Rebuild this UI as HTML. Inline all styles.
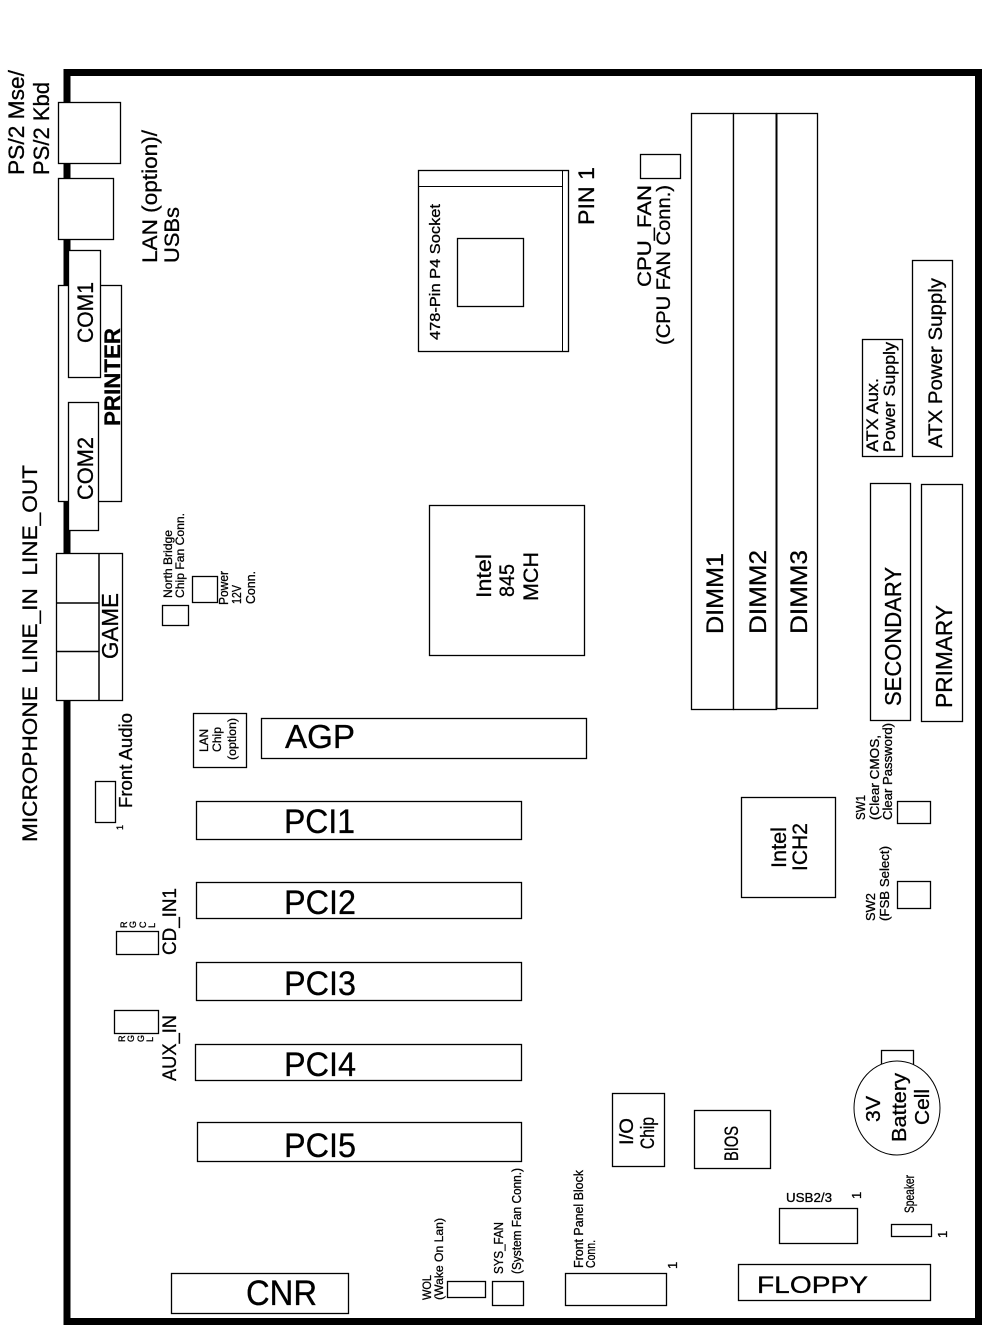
<!DOCTYPE html>
<html><head><meta charset="utf-8"><style>
html,body{margin:0;padding:0;background:#fff}
svg{display:block}
rect.b{fill:#fff;stroke:#000;stroke-width:1.3}
text{font-family:"Liberation Sans",sans-serif;fill:#000;stroke:#000;stroke-width:.3}
</style></head><body>
<svg width="990" height="1334" viewBox="0 0 990 1334" xmlns="http://www.w3.org/2000/svg">
<rect x="67" y="72.5" width="911.5" height="1249" fill="#fff" stroke="#000" stroke-width="7"/>

<rect class="b" x="58.5" y="102.5" width="62" height="61"/>
<rect class="b" x="58.5" y="178.5" width="55" height="61"/>
<rect class="b" x="58.5" y="285.5" width="63" height="216"/>
<rect class="b" x="68.5" y="250.5" width="32" height="127"/>
<rect class="b" x="68.5" y="402.5" width="30" height="128"/>
<rect class="b" x="56.5" y="553.5" width="66" height="147"/>
<path d="M99 553V700M56 603H99M56 651.5H99" stroke="#000" stroke-width="1.5" fill="none"/>
<rect class="b" x="95.5" y="781.5" width="20" height="41"/>
<rect class="b" x="162.5" y="605.5" width="26" height="20"/>
<rect class="b" x="192.5" y="576.5" width="25" height="26"/>
<rect class="b" x="193.5" y="713.5" width="53" height="54"/>
<rect class="b" x="261.5" y="718.5" width="325" height="40"/>
<rect class="b" x="196.5" y="801.5" width="325" height="38"/>
<rect class="b" x="196.5" y="882.5" width="325" height="36"/>
<rect class="b" x="196.5" y="962.5" width="325" height="38"/>
<rect class="b" x="195.5" y="1044.5" width="326" height="36"/>
<rect class="b" x="197.5" y="1122.5" width="324" height="39"/>
<rect class="b" x="171.5" y="1273.5" width="177" height="40"/>
<rect class="b" x="447.5" y="1281.5" width="38" height="16"/>
<rect class="b" x="492.5" y="1281.5" width="31" height="24"/>
<rect class="b" x="565.5" y="1273.5" width="101" height="32"/>
<rect class="b" x="612.5" y="1093.5" width="52" height="73"/>
<rect class="b" x="694.5" y="1110.5" width="76" height="58"/>
<rect class="b" x="881.5" y="1050.5" width="32" height="14"/>
<ellipse cx="897" cy="1108" rx="43" ry="47" fill="#fff" stroke="#000" stroke-width="1"/>
<rect class="b" x="779.5" y="1208.5" width="78" height="35"/>
<rect class="b" x="891.5" y="1224.5" width="40" height="12"/>
<rect class="b" x="738.5" y="1264.5" width="192" height="36"/>
<rect class="b" x="691.5" y="113.5" width="42" height="596"/>
<rect class="b" x="733.5" y="113.5" width="43" height="596"/>
<rect class="b" x="776.5" y="113.5" width="41" height="595"/>
<path d="M776.5 113V709" stroke="#000" stroke-width="2"/>
<rect class="b" x="870.5" y="483.5" width="40" height="237"/>
<rect class="b" x="921.5" y="484.5" width="41" height="237"/>
<rect class="b" x="862.5" y="339.5" width="40" height="117"/>
<rect class="b" x="912.5" y="260.5" width="40" height="196"/>
<rect class="b" x="897.5" y="801.5" width="33" height="22"/>
<rect class="b" x="897.5" y="881.5" width="33" height="27"/>
<rect class="b" x="741.5" y="797.5" width="94" height="100"/>
<rect class="b" x="429.5" y="505.5" width="155" height="150"/>
<rect class="b" x="418.5" y="170.5" width="150" height="181"/>
<path d="M562.5 170V351M418 186.5H562" stroke="#000" stroke-width="1" fill="none"/>
<rect class="b" x="457.5" y="238.5" width="66" height="68"/>
<rect class="b" x="640.5" y="154.5" width="40" height="24"/>
<rect class="b" x="116.5" y="931.5" width="42" height="23"/>
<rect class="b" x="114.5" y="1010.5" width="44" height="23"/>

<g>
<text font-size="22" textLength="105" lengthAdjust="spacingAndGlyphs" transform="translate(24 175) rotate(-90)">PS/2 Mse/</text>
<text font-size="22" textLength="93" lengthAdjust="spacingAndGlyphs" transform="translate(49 175) rotate(-90)">PS/2 Kbd</text>
<text font-size="21" textLength="133" lengthAdjust="spacingAndGlyphs" transform="translate(157 263) rotate(-90)">LAN (option)/</text>
<text font-size="21" textLength="56" lengthAdjust="spacingAndGlyphs" transform="translate(179 263) rotate(-90)">USBs</text>
<text font-size="22" textLength="61" lengthAdjust="spacingAndGlyphs" transform="translate(93 343) rotate(-90)">COM1</text>
<text font-size="22" textLength="98" lengthAdjust="spacingAndGlyphs" font-weight="bold" transform="translate(120 426) rotate(-90)">PRINTER</text>
<text font-size="22" textLength="63" lengthAdjust="spacingAndGlyphs" transform="translate(93 500) rotate(-90)">COM2</text>
<text font-size="21" textLength="377" lengthAdjust="spacingAndGlyphs" transform="translate(37 842) rotate(-90)" xml:space="preserve">MICROPHONE  LINE_IN  LINE_OUT</text>
<text font-size="23" textLength="66" lengthAdjust="spacingAndGlyphs" transform="translate(118 659) rotate(-90)">GAME</text>
<text font-size="18" textLength="95" lengthAdjust="spacingAndGlyphs" transform="translate(132 808) rotate(-90)">Front Audio</text>
<text font-size="9" transform="translate(123 830) rotate(-90)">1</text>
<text font-size="12" textLength="68" lengthAdjust="spacingAndGlyphs" transform="translate(172 598) rotate(-90)">North Bridge</text>
<text font-size="12" textLength="85" lengthAdjust="spacingAndGlyphs" transform="translate(184 598) rotate(-90)">Chip Fan Conn.</text>
<text font-size="13" textLength="34" lengthAdjust="spacingAndGlyphs" transform="translate(228 605) rotate(-90)">Power</text>
<text font-size="13" textLength="19" lengthAdjust="spacingAndGlyphs" transform="translate(241 604) rotate(-90)">12V</text>
<text font-size="13" textLength="33" lengthAdjust="spacingAndGlyphs" transform="translate(255 604) rotate(-90)">Conn.</text>
<text font-size="12" textLength="23" lengthAdjust="spacingAndGlyphs" transform="translate(208 752) rotate(-90)">LAN</text>
<text font-size="12" textLength="25" lengthAdjust="spacingAndGlyphs" transform="translate(221 752) rotate(-90)">Chip</text>
<text font-size="12" textLength="42" lengthAdjust="spacingAndGlyphs" transform="translate(236 760) rotate(-90)">(option)</text>

<text font-size="33" x="285" y="748" textLength="70" lengthAdjust="spacingAndGlyphs">AGP</text>
<text font-size="34" x="284" y="833" textLength="71" lengthAdjust="spacingAndGlyphs">PCI1</text>
<text font-size="34" x="284" y="914" textLength="72" lengthAdjust="spacingAndGlyphs">PCI2</text>
<text font-size="34" x="284" y="995" textLength="72" lengthAdjust="spacingAndGlyphs">PCI3</text>
<text font-size="34" x="284" y="1076" textLength="72" lengthAdjust="spacingAndGlyphs">PCI4</text>
<text font-size="34" x="284" y="1157" textLength="72" lengthAdjust="spacingAndGlyphs">PCI5</text>
<text font-size="35" x="246" y="1305" textLength="71" lengthAdjust="spacingAndGlyphs">CNR</text>
<text font-size="24" x="757" y="1293" textLength="111" lengthAdjust="spacingAndGlyphs">FLOPPY</text>
<text font-size="13" x="786" y="1202" textLength="46" lengthAdjust="spacingAndGlyphs">USB2/3</text>

<text font-size="13" transform="translate(861 1199) rotate(-90)">1</text>
<text font-size="14" textLength="38" lengthAdjust="spacingAndGlyphs" transform="translate(914 1213) rotate(-90)">Speaker</text>
<text font-size="13" transform="translate(947 1238) rotate(-90)">1</text>
<text font-size="12.5" textLength="98" lengthAdjust="spacingAndGlyphs" transform="translate(583 1268) rotate(-90)">Front Panel Block</text>
<text font-size="12.5" textLength="28" lengthAdjust="spacingAndGlyphs" transform="translate(595 1268) rotate(-90)">Conn.</text>
<text font-size="13" transform="translate(677 1269) rotate(-90)">1</text>
<text font-size="12.5" textLength="52" lengthAdjust="spacingAndGlyphs" transform="translate(503 1274) rotate(-90)">SYS_FAN</text>
<text font-size="12.5" textLength="106" lengthAdjust="spacingAndGlyphs" transform="translate(521 1274) rotate(-90)">(System Fan Conn.)</text>
<text font-size="12" textLength="25" lengthAdjust="spacingAndGlyphs" transform="translate(431 1300) rotate(-90)">WOL</text>
<text font-size="12" textLength="82" lengthAdjust="spacingAndGlyphs" transform="translate(443 1300) rotate(-90)">(Wake On Lan)</text>
<text font-size="19" textLength="27" lengthAdjust="spacingAndGlyphs" transform="translate(633 1145) rotate(-90)">I/O</text>
<text font-size="19" textLength="32" lengthAdjust="spacingAndGlyphs" transform="translate(654 1149) rotate(-90)">Chip</text>
<text font-size="19" textLength="35" lengthAdjust="spacingAndGlyphs" transform="translate(738 1161) rotate(-90)">BIOS</text>
<text font-size="20" textLength="26" lengthAdjust="spacingAndGlyphs" transform="translate(880 1122) rotate(-90)">3V</text>
<text font-size="20" textLength="69" lengthAdjust="spacingAndGlyphs" transform="translate(906 1142) rotate(-90)">Battery</text>
<text font-size="20" textLength="36" lengthAdjust="spacingAndGlyphs" transform="translate(929 1125) rotate(-90)">Cell</text>
<text font-size="12.5" textLength="25" lengthAdjust="spacingAndGlyphs" transform="translate(865 820) rotate(-90)">SW1</text>
<text font-size="12.5" textLength="85" lengthAdjust="spacingAndGlyphs" transform="translate(879 820) rotate(-90)">(Clear CMOS,</text>
<text font-size="12.5" textLength="97" lengthAdjust="spacingAndGlyphs" transform="translate(892 820) rotate(-90)">Clear Password)</text>
<text font-size="12.5" textLength="28" lengthAdjust="spacingAndGlyphs" transform="translate(875 921) rotate(-90)">SW2</text>
<text font-size="12.5" textLength="75" lengthAdjust="spacingAndGlyphs" transform="translate(889 921) rotate(-90)">(FSB Select)</text>
<text font-size="16.5" textLength="74" lengthAdjust="spacingAndGlyphs" transform="translate(878 452) rotate(-90)">ATX Aux.</text>
<text font-size="16.5" textLength="110" lengthAdjust="spacingAndGlyphs" transform="translate(895 452) rotate(-90)">Power Supply</text>
<text font-size="19" textLength="170" lengthAdjust="spacingAndGlyphs" transform="translate(942 448) rotate(-90)">ATX Power Supply</text>
<text font-size="24" textLength="81" lengthAdjust="spacingAndGlyphs" transform="translate(723 634) rotate(-90)">DIMM1</text>
<text font-size="24" textLength="84" lengthAdjust="spacingAndGlyphs" transform="translate(766 634) rotate(-90)">DIMM2</text>
<text font-size="24" textLength="84" lengthAdjust="spacingAndGlyphs" transform="translate(807 634) rotate(-90)">DIMM3</text>
<text font-size="23" textLength="139" lengthAdjust="spacingAndGlyphs" transform="translate(901 706) rotate(-90)">SECONDARY</text>
<text font-size="23" textLength="103" lengthAdjust="spacingAndGlyphs" transform="translate(952 708) rotate(-90)">PRIMARY</text>
<text font-size="21" textLength="44" lengthAdjust="spacingAndGlyphs" transform="translate(491 598) rotate(-90)">Intel</text>
<text font-size="21" textLength="33" lengthAdjust="spacingAndGlyphs" transform="translate(514 597) rotate(-90)">845</text>
<text font-size="21" textLength="49" lengthAdjust="spacingAndGlyphs" transform="translate(538 601) rotate(-90)">MCH</text>
<text font-size="21" textLength="41" lengthAdjust="spacingAndGlyphs" transform="translate(786 868) rotate(-90)">Intel</text>
<text font-size="21" textLength="48" lengthAdjust="spacingAndGlyphs" transform="translate(807 871) rotate(-90)">ICH2</text>
<text font-size="15" textLength="136" lengthAdjust="spacingAndGlyphs" transform="translate(440 340) rotate(-90)">478-Pin P4 Socket</text>
<text font-size="22" textLength="58" lengthAdjust="spacingAndGlyphs" transform="translate(594 225) rotate(-90)">PIN 1</text>
<text font-size="19" textLength="102" lengthAdjust="spacingAndGlyphs" transform="translate(651 287) rotate(-90)">CPU_FAN</text>
<text font-size="19" textLength="160" lengthAdjust="spacingAndGlyphs" transform="translate(670 345) rotate(-90)">(CPU FAN Conn.)</text>
<text font-size="19" textLength="67" lengthAdjust="spacingAndGlyphs" transform="translate(176 955) rotate(-90)">CD_IN1</text>
<text font-size="19" textLength="66" lengthAdjust="spacingAndGlyphs" transform="translate(176 1081) rotate(-90)">AUX_IN</text>
<text font-size="9" transform="translate(127 928) rotate(-90)">R</text>
<text font-size="9" transform="translate(136 928) rotate(-90)">G</text>
<text font-size="9" transform="translate(146 928) rotate(-90)">C</text>
<text font-size="9" transform="translate(155 928) rotate(-90)">L</text>
<text font-size="9" transform="translate(125 1042) rotate(-90)">R</text>
<text font-size="9" transform="translate(134 1042) rotate(-90)">G</text>
<text font-size="9" transform="translate(144 1042) rotate(-90)">G</text>
<text font-size="9" transform="translate(153 1042) rotate(-90)">L</text>
</g>
</svg>
</body></html>
